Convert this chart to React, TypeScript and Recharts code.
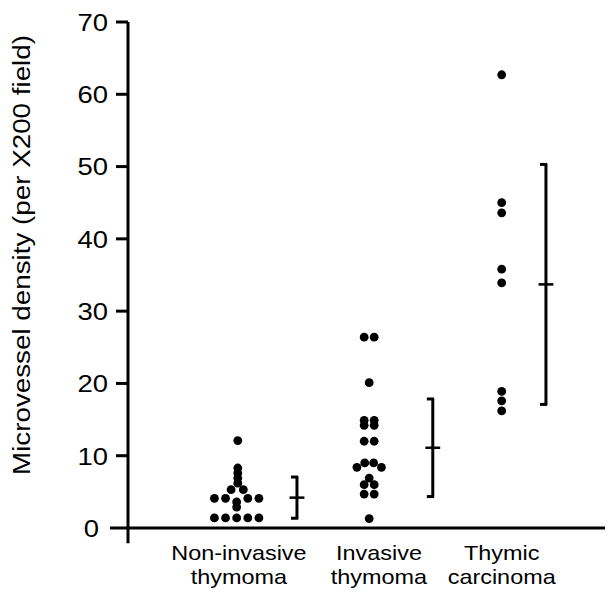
import React from "react";
import { ScatterChart, Scatter, XAxis, YAxis, ReferenceLine } from "recharts";

// ---- data ----
const groups = ["Non-invasive thymoma", "Invasive thymoma", "Thymic carcinoma"];
const groupLabelLines = [
  ["Non-invasive", "thymoma"],
  ["Invasive", "thymoma"],
  ["Thymic", "carcinoma"],
];
const groupLabelPos = [1.017, 2.074, 3.0];

// microvessel density per case (per x200 field) and column slot (dot widths from group centre)
const nonInvasiveMvd = [12.1, 8.3, 7.6, 6.9, 6.2, 5.3, 5.3, 4.1, 4.1, 4.1, 4.1, 3.6, 2.9, 1.4, 1.4, 1.4, 1.4, 1.4];
const nonInvasiveCol = [0.1, 0.1, 0.1, 0.1, 0.1, -0.5, 0.6, -2, -1, 1, 2, 0, 0, -2, -1, 0, 1, 2];

const invasiveMvd = [26.4, 26.4, 20.1, 14.9, 14.9, 14.2, 14.2, 12.0, 12.0, 9.0, 9.0, 8.4, 8.4, 6.9, 6.0, 6.0, 4.7, 4.7, 1.3];
const invasiveCol = [-0.45, 0.45, 0, -0.45, 0.45, -0.45, 0.45, -0.45, 0.45, -0.4, 0.4, -1.1, 1.1, 0, -0.45, 0.45, -0.45, 0.45, 0];

const carcinomaMvd = [62.7, 45.0, 43.6, 35.8, 33.9, 18.9, 17.6, 16.2];
const carcinomaCol = [0, 0, 0, 0, 0, 0, 0, 0];

// mean +/- SD brackets (x position in group units)
const summaryX = [1.455, 2.48, 3.334];
const summaryMean = [4.2, 11.1, 33.7];
const summarySd = [2.85, 6.75, 16.6];

const yTicks = [0, 10, 20, 30, 40, 50, 60, 70];

// ---- layout ----
const X_MIN = 0.18;
const X_MAX = 3.84;
const SLOT = 0.084;
const FONT = "'Liberation Sans', Arial, Helvetica, sans-serif";

const toPoints = (vals: number[], cols: number[], g: number) =>
  vals.map((v, i) => ({ x: g + cols[i] * SLOT, y: v }));

const points = [
  ...toPoints(nonInvasiveMvd, nonInvasiveCol, 1),
  ...toPoints(invasiveMvd, invasiveCol, 2),
  ...toPoints(carcinomaMvd, carcinomaCol, 3),
];

const Dot = (props: any) => {
  const { cx, cy } = props;
  if (cx == null || cy == null) return null;
  return <circle cx={cx} cy={cy} r={4.4} fill="#000" />;
};

const YTick = (props: any) => {
  const { x, y, payload } = props;
  const v = payload.value;
  const len = v === 0 ? 18 : 12;
  const gap = v === 0 ? 11 : 8;
  return (
    <g>
      <line x1={x - len} x2={x} y1={y} y2={y} stroke="#000" strokeWidth={3} />
      <text
        transform={`translate(${x - len - gap},${y + 8.8}) scale(1.12,1)`}
        textAnchor="end"
        fontSize={24.5}
        fontFamily={FONT}
        fill="#000"
      >
        {v}
      </text>
    </g>
  );
};

const XTick = (props: any) => {
  const { x, y, index } = props;
  const lines = groupLabelLines[index] || [];
  return (
    <g>
      {lines.map((t, i) => (
        <text
          key={i}
          transform={`translate(${x},${y + 32 + i * 24}) scale(1.115,1)`}
          textAnchor="middle"
          fontSize={21}
          fontFamily={FONT}
          fill="#000"
        >
          {t}
        </text>
      ))}
    </g>
  );
};

const YLabel = () => (
  <text
    transform="translate(22,247) rotate(-90)"
    textAnchor="middle"
    fontSize={23}
    fontFamily={FONT}
    fill="#000"
    textLength={440}
    lengthAdjust="spacingAndGlyphs"
  >
    Microvessel density (per X200 field)
  </text>
);

export default function App() {
  return (
    <div style={{ width: 605, height: 584, background: "#fff" }}>
      <ScatterChart width={605} height={584} margin={{ top: 14, right: 0, bottom: 0, left: 0 }}>
        <XAxis
          type="number"
          dataKey="x"
          domain={[X_MIN, X_MAX]}
          ticks={groupLabelPos}
          tick={<XTick />}
          tickLine={false}
          tickSize={0}
          tickMargin={0}
          height={64}
          axisLine={{ stroke: "#000", strokeWidth: 3 }}
          allowDataOverflow
          interval={0}
        />
        <YAxis
          type="number"
          dataKey="y"
          domain={[0, 70]}
          ticks={yTicks}
          tick={<YTick />}
          tickLine={false}
          tickSize={0}
          tickMargin={0}
          width={120}
          axisLine={false}
          allowDataOverflow
          interval={0}
          label={{ content: () => <YLabel /> }}
        />
        <ReferenceLine
          segment={[{ x: X_MIN, y: -2.1 }, { x: X_MIN, y: 70 }]}
          stroke="#000"
          strokeWidth={3}
          ifOverflow="visible"
        />
        {summaryX.map((sx, i) => {
          const top = summaryMean[i] + summarySd[i];
          const bot = summaryMean[i] - summarySd[i];
          const serif = 0.045;
          const half = 0.056;
          return (
            <React.Fragment key={groups[i]}>
              <ReferenceLine segment={[{ x: sx, y: bot }, { x: sx, y: top }]} stroke="#000" strokeWidth={3} ifOverflow="visible" />
              <ReferenceLine segment={[{ x: sx - serif, y: top }, { x: sx + 0.01, y: top }]} stroke="#000" strokeWidth={3} ifOverflow="visible" />
              <ReferenceLine segment={[{ x: sx - serif, y: bot }, { x: sx + 0.01, y: bot }]} stroke="#000" strokeWidth={3} ifOverflow="visible" />
              <ReferenceLine segment={[{ x: sx - half, y: summaryMean[i] }, { x: sx + half, y: summaryMean[i] }]} stroke="#000" strokeWidth={2.5} ifOverflow="visible" />
            </React.Fragment>
          );
        })}
        <Scatter data={points} shape={<Dot />} isAnimationActive={false} />
      </ScatterChart>
    </div>
  );
}
